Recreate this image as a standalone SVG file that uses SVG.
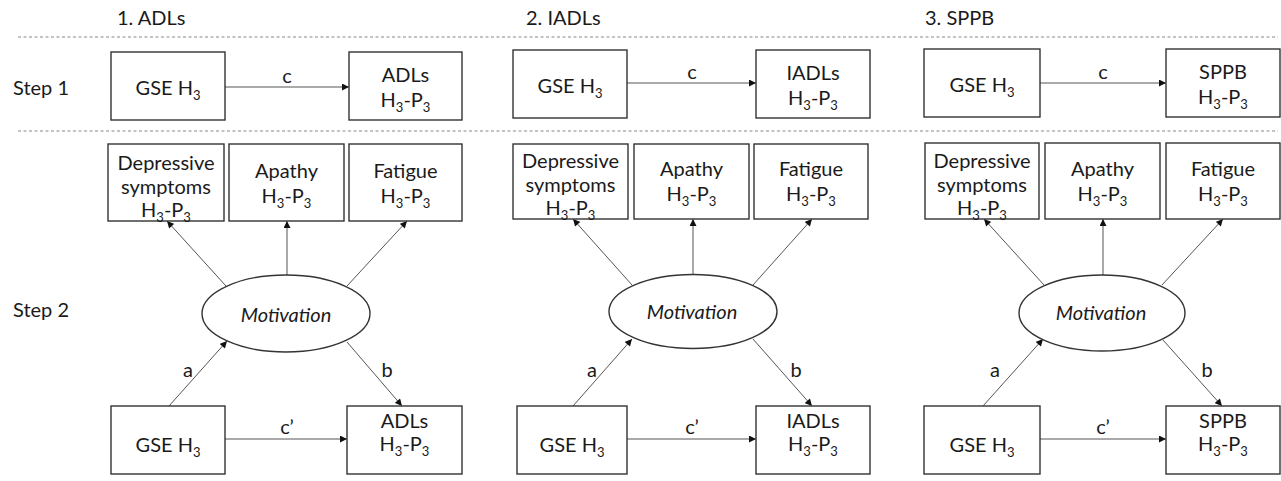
<svg xmlns="http://www.w3.org/2000/svg" width="1281" height="481" viewBox="0 0 1281 481">
<style>
text{font-family:Lato,"Open Sans","Liberation Sans",sans-serif;font-size:20px;fill:#1a1a1a}
.c{text-anchor:middle}
.it{font-style:italic}
.box{fill:#fff;stroke:#333;stroke-width:1.4}
.ell{fill:#fff;stroke:#333;stroke-width:1.4}
.arr{stroke:#555;stroke-width:1;fill:none;marker-end:url(#ah)}
.dash{stroke:#888;stroke-width:1.2;stroke-dasharray:3 2.5}
.sub{font-size:13px}
</style>
<defs>
<marker id="ah" viewBox="0 0 10 10" refX="10" refY="5" markerWidth="8" markerHeight="7" markerUnits="userSpaceOnUse" orient="auto">
<path d="M0,0 L10,5 L0,10 z" fill="#111"/>
</marker>
</defs>
<rect width="1281" height="481" fill="#fff"/>
<g id="dividers">
<line class="dash" x1="18" y1="37" x2="1278" y2="37"/>
<line class="dash" x1="18" y1="131" x2="1278" y2="131"/>
</g>
<g id="row-labels">
<text x="13" y="95">Step 1</text>
<text x="13" y="317">Step 2</text>
</g>
<g id="titles">
<text x="117" y="25">1. ADLs</text>
<text x="526" y="25">2. IADLs</text>
<text x="925" y="25">3. SPPB</text>
</g>
<g id="connectors">
<line class="arr" x1="225" y1="87" x2="349" y2="87"/>
<line class="arr" x1="627" y1="83" x2="756" y2="83"/>
<line class="arr" x1="1040" y1="83" x2="1166" y2="83"/>
<line class="arr" x1="226" y1="286" x2="167" y2="221"/>
<line class="arr" x1="287" y1="275" x2="287" y2="221"/>
<line class="arr" x1="347" y1="286" x2="407" y2="221"/>
<line class="arr" x1="632" y1="285" x2="573" y2="219"/>
<line class="arr" x1="693" y1="274.5" x2="693" y2="219"/>
<line class="arr" x1="753" y1="285" x2="812" y2="219"/>
<line class="arr" x1="1044" y1="285" x2="984" y2="219"/>
<line class="arr" x1="1103" y1="275" x2="1103" y2="219"/>
<line class="arr" x1="1162" y1="285" x2="1223" y2="219"/>
<line class="arr" x1="169" y1="406" x2="227" y2="341"/>
<line class="arr" x1="347" y1="342" x2="402" y2="406"/>
<line class="arr" x1="573" y1="406" x2="632" y2="339"/>
<line class="arr" x1="753" y1="339" x2="812" y2="406"/>
<line class="arr" x1="983" y1="406" x2="1043" y2="339"/>
<line class="arr" x1="1163" y1="340" x2="1222" y2="406"/>
<line class="arr" x1="225" y1="439" x2="347" y2="439"/>
<line class="arr" x1="627" y1="439" x2="756" y2="439"/>
<line class="arr" x1="1040" y1="439" x2="1166" y2="439"/>
<text class="c" x="287" y="83">c</text>
<text class="c" x="692" y="79">c</text>
<text class="c" x="1103" y="79">c</text>
<text class="c" x="188" y="377">a</text>
<text class="c" x="387" y="377">b</text>
<text class="c" x="592" y="377">a</text>
<text class="c" x="796" y="377">b</text>
<text class="c" x="995" y="377">a</text>
<text class="c" x="1207" y="377">b</text>
<text class="c" x="287" y="434">c’</text>
<text class="c" x="692" y="434">c’</text>
<text class="c" x="1103" y="434">c’</text>
</g>
<g id="p1-s1-gse"><rect class="box" x="111" y="52" width="114" height="68"/><text class="c" x="168" y="95">GSE H<tspan class="sub" dy="5">3</tspan></text></g>
<g id="p1-s1-adls"><rect class="box" x="349" y="52" width="113" height="68"/><text class="c" x="405.5" y="82">ADLs</text><text class="c" x="405.5" y="107">H<tspan class="sub" dy="5">3</tspan><tspan dy="-5">-P</tspan><tspan class="sub" dy="5">3</tspan></text></g>
<g id="p1-dep"><rect class="box" x="108" y="144" width="116" height="77"/><text class="c" x="166" y="170">Depressive</text><text class="c" x="166" y="194">symptoms</text><text class="c" x="166" y="217">H<tspan class="sub" dy="5">3</tspan><tspan dy="-5">-P</tspan><tspan class="sub" dy="5">3</tspan></text></g>
<g id="p1-apathy"><rect class="box" x="229" y="144" width="115" height="77"/><text class="c" x="286.5" y="178">Apathy</text><text class="c" x="286.5" y="203">H<tspan class="sub" dy="5">3</tspan><tspan dy="-5">-P</tspan><tspan class="sub" dy="5">3</tspan></text></g>
<g id="p1-fatigue"><rect class="box" x="349" y="144" width="113" height="77"/><text class="c" x="405.5" y="178">Fatigue</text><text class="c" x="405.5" y="203">H<tspan class="sub" dy="5">3</tspan><tspan dy="-5">-P</tspan><tspan class="sub" dy="5">3</tspan></text></g>
<g id="p1-motivation"><ellipse class="ell" cx="286" cy="313.5" rx="84" ry="38.5"/><text class="c it" x="286" y="322">Motivation</text></g>
<g id="p1-s2-gse"><rect class="box" x="111" y="406" width="114" height="68"/><text class="c" x="168" y="452">GSE H<tspan class="sub" dy="5">3</tspan></text></g>
<g id="p1-s2-adls"><rect class="box" x="347" y="406" width="115" height="68"/><text class="c" x="404.5" y="428">ADLs</text><text class="c" x="404.5" y="451">H<tspan class="sub" dy="5">3</tspan><tspan dy="-5">-P</tspan><tspan class="sub" dy="5">3</tspan></text></g>
<g id="p2-s1-gse"><rect class="box" x="513" y="50" width="114" height="68"/><text class="c" x="570" y="93">GSE H<tspan class="sub" dy="5">3</tspan></text></g>
<g id="p2-s1-iadls"><rect class="box" x="756" y="50" width="114" height="68"/><text class="c" x="813" y="80">IADLs</text><text class="c" x="813" y="105">H<tspan class="sub" dy="5">3</tspan><tspan dy="-5">-P</tspan><tspan class="sub" dy="5">3</tspan></text></g>
<g id="p2-dep"><rect class="box" x="513" y="144" width="115" height="75"/><text class="c" x="570.5" y="168">Depressive</text><text class="c" x="570.5" y="192">symptoms</text><text class="c" x="570.5" y="215">H<tspan class="sub" dy="5">3</tspan><tspan dy="-5">-P</tspan><tspan class="sub" dy="5">3</tspan></text></g>
<g id="p2-apathy"><rect class="box" x="634" y="144" width="115" height="75"/><text class="c" x="691.5" y="176">Apathy</text><text class="c" x="691.5" y="201">H<tspan class="sub" dy="5">3</tspan><tspan dy="-5">-P</tspan><tspan class="sub" dy="5">3</tspan></text></g>
<g id="p2-fatigue"><rect class="box" x="754" y="144" width="114" height="75"/><text class="c" x="811" y="176">Fatigue</text><text class="c" x="811" y="201">H<tspan class="sub" dy="5">3</tspan><tspan dy="-5">-P</tspan><tspan class="sub" dy="5">3</tspan></text></g>
<g id="p2-motivation"><ellipse class="ell" cx="693" cy="311.5" rx="84" ry="37"/><text class="c it" x="692" y="319">Motivation</text></g>
<g id="p2-s2-gse"><rect class="box" x="517" y="406" width="110" height="68"/><text class="c" x="572" y="452">GSE H<tspan class="sub" dy="5">3</tspan></text></g>
<g id="p2-s2-iadls"><rect class="box" x="756" y="406" width="114" height="68"/><text class="c" x="813" y="428">IADLs</text><text class="c" x="813" y="451">H<tspan class="sub" dy="5">3</tspan><tspan dy="-5">-P</tspan><tspan class="sub" dy="5">3</tspan></text></g>
<g id="p3-s1-gse"><rect class="box" x="924" y="49" width="116" height="68"/><text class="c" x="982" y="92">GSE H<tspan class="sub" dy="5">3</tspan></text></g>
<g id="p3-s1-sppb"><rect class="box" x="1166" y="49" width="114" height="68"/><text class="c" x="1223" y="79">SPPB</text><text class="c" x="1223" y="104">H<tspan class="sub" dy="5">3</tspan><tspan dy="-5">-P</tspan><tspan class="sub" dy="5">3</tspan></text></g>
<g id="p3-dep"><rect class="box" x="925" y="143" width="114" height="76"/><text class="c" x="982" y="168">Depressive</text><text class="c" x="982" y="192">symptoms</text><text class="c" x="982" y="215">H<tspan class="sub" dy="5">3</tspan><tspan dy="-5">-P</tspan><tspan class="sub" dy="5">3</tspan></text></g>
<g id="p3-apathy"><rect class="box" x="1045" y="143" width="115" height="76"/><text class="c" x="1102.5" y="176">Apathy</text><text class="c" x="1102.5" y="201">H<tspan class="sub" dy="5">3</tspan><tspan dy="-5">-P</tspan><tspan class="sub" dy="5">3</tspan></text></g>
<g id="p3-fatigue"><rect class="box" x="1166" y="143" width="114" height="76"/><text class="c" x="1223" y="176">Fatigue</text><text class="c" x="1223" y="201">H<tspan class="sub" dy="5">3</tspan><tspan dy="-5">-P</tspan><tspan class="sub" dy="5">3</tspan></text></g>
<g id="p3-motivation"><ellipse class="ell" cx="1102" cy="313" rx="83" ry="38"/><text class="c it" x="1101" y="320">Motivation</text></g>
<g id="p3-s2-gse"><rect class="box" x="924" y="406" width="116" height="68"/><text class="c" x="982" y="452">GSE H<tspan class="sub" dy="5">3</tspan></text></g>
<g id="p3-s2-sppb"><rect class="box" x="1166" y="406" width="114" height="68"/><text class="c" x="1223" y="428">SPPB</text><text class="c" x="1223" y="451">H<tspan class="sub" dy="5">3</tspan><tspan dy="-5">-P</tspan><tspan class="sub" dy="5">3</tspan></text></g>
</svg>
